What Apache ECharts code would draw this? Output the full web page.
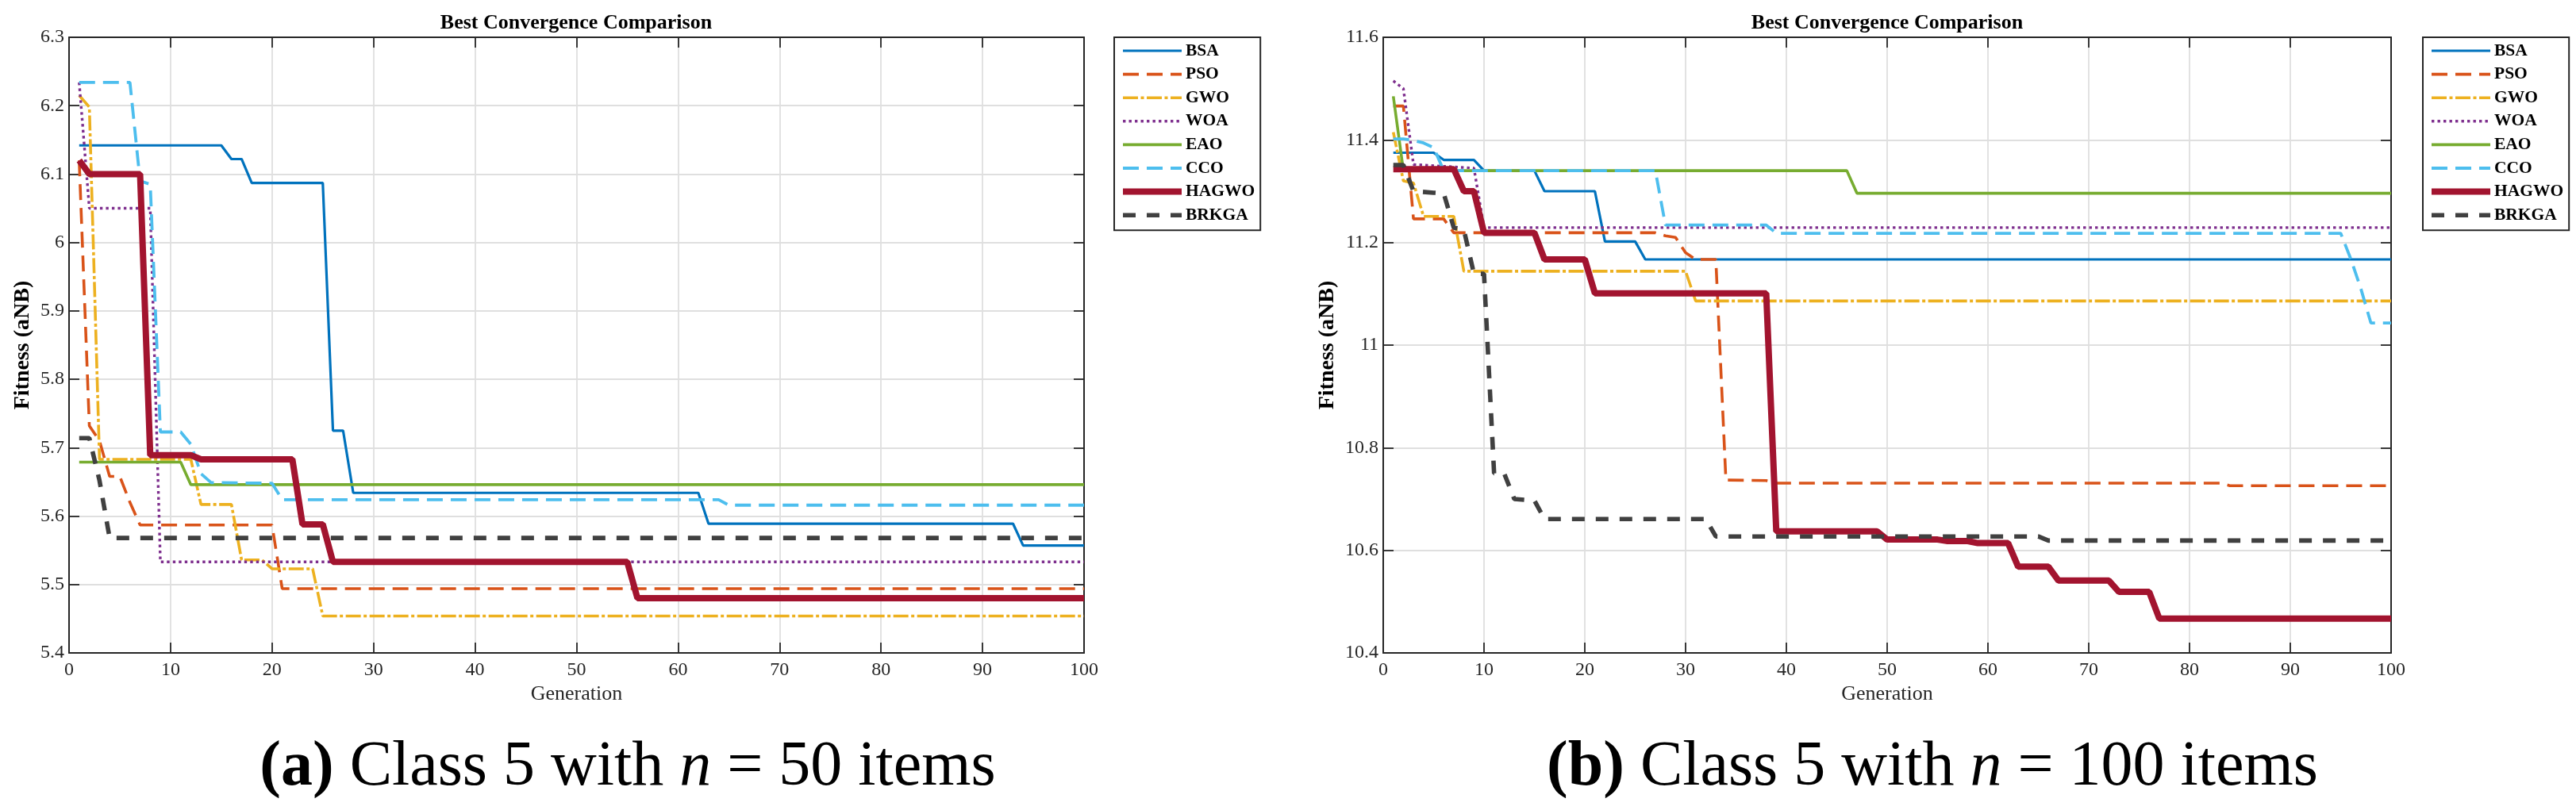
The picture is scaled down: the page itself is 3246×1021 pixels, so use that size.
<!DOCTYPE html>
<html>
<head>
<meta charset="utf-8">
<title>Best Convergence Comparison</title>
<script src="https://cdn.jsdelivr.net/npm/echarts@6/dist/echarts.min.js"></script>
<style>
  html, body { margin: 0; padding: 0; background: #ffffff; }
  #chart { width: 3246px; height: 1021px; }
</style>
</head>
<body>
<div id="chart"></div>
<script>
// ---- data ----
const algorithms = ['BSA', 'PSO', 'GWO', 'WOA', 'EAO', 'CCO', 'HAGWO', 'BRKGA'];
const genTicks = [0, 10, 20, 30, 40, 50, 60, 70, 80, 90, 100];
const fitTicksA = [5.4, 5.5, 5.6, 5.7, 5.8, 5.9, 6.0, 6.1, 6.2, 6.3];
const fitTicksB = [10.4, 10.6, 10.8, 11.0, 11.2, 11.4, 11.6];

// (a) class 5, n = 50 : [generation, best fitness] at each change point
const bsaA = [[1,6.142],[15,6.142],[16,6.122],[17,6.122],[18,6.087],[25,6.087],[26,5.725],[27,5.725],[28,5.634],[62,5.634],[63,5.589],[93,5.589],[94,5.557],[100,5.557]];
const psoA = [[1,6.12],[2,5.732],[3,5.71],[4,5.658],[5,5.658],[6,5.62],[7,5.587],[20,5.587],[21,5.494],[100,5.494]];
const gwoA = [[1,6.215],[2,6.198],[3,5.683],[12,5.683],[13,5.617],[16,5.617],[17,5.536],[19,5.536],[20,5.523],[24,5.523],[25,5.454],[100,5.454]];
const woaA = [[1,6.234],[2,6.05],[8,6.05],[9,5.533],[100,5.533]];
const eaoA = [[1,5.679],[11,5.679],[12,5.646],[100,5.646]];
const ccoA = [[1,6.234],[6,6.234],[7,6.09],[8,6.085],[9,5.723],[11,5.723],[12,5.705],[13,5.662],[14,5.649],[20,5.648],[21,5.624],[64,5.624],[65,5.616],[100,5.616]];
const hagwoA = [[1,6.12],[2,6.1],[7,6.1],[8,5.689],[12,5.689],[13,5.683],[22,5.683],[23,5.588],[25,5.588],[26,5.533],[55,5.533],[56,5.48],[100,5.48]];
const brkgaA = [[1,5.714],[2,5.714],[3,5.652],[4,5.568],[100,5.568]];

// (b) class 5, n = 100
const bsaB = [[1,11.375],[5,11.375],[6,11.361],[9,11.361],[10,11.34],[15,11.34],[16,11.30],[21,11.30],[22,11.202],[25,11.202],[26,11.167],[100,11.167]];
const psoB = [[1,11.466],[2,11.466],[3,11.246],[6,11.246],[7,11.219],[27,11.219],[28,11.213],[29,11.21],[30,11.18],[31,11.167],[33,11.167],[34,10.737],[38,10.736],[39,10.731],[83,10.731],[84,10.726],[100,10.726]];
const gwoB = [[1,11.415],[2,11.32],[3,11.316],[4,11.251],[7,11.251],[8,11.144],[30,11.144],[31,11.086],[100,11.086]];
const woaB = [[1,11.515],[2,11.5],[3,11.352],[9,11.345],[10,11.229],[100,11.229]];
const eaoB = [[1,11.485],[2,11.34],[46,11.34],[47,11.296],[100,11.296]];
const ccoB = [[1,11.402],[2,11.402],[3,11.399],[4,11.394],[5,11.385],[6,11.34],[27,11.34],[28,11.234],[38,11.234],[39,11.218],[95,11.218],[96,11.168],[97,11.11],[98,11.043],[100,11.043]];
const hagwoB = [[1,11.343],[7,11.343],[8,11.30],[9,11.30],[10,11.219],[15,11.219],[16,11.167],[20,11.167],[21,11.101],[38,11.101],[39,10.637],[49,10.637],[50,10.621],[55,10.621],[56,10.618],[58,10.618],[59,10.614],[62,10.614],[63,10.568],[66,10.568],[67,10.541],[72,10.541],[73,10.519],[76,10.519],[77,10.467],[100,10.467]];
const brkgaB = [[1,11.351],[2,11.351],[3,11.30],[5,11.297],[6,11.296],[7,11.229],[8,11.225],[9,11.139],[10,11.139],[11,10.75],[12,10.75],[13,10.70],[15,10.697],[16,10.661],[32,10.661],[33,10.627],[65,10.627],[66,10.619],[100,10.619]];

const dataA = [bsaA, psoA, gwoA, woaA, eaoA, ccoA, hagwoA, brkgaA];
const dataB = [bsaB, psoB, gwoB, woaB, eaoB, ccoB, hagwoB, brkgaB];

// ---- styling (MATLAB default palette) ----
const FONT = 'Liberation Serif';
const AXIS_COLOR = '#262626';
const GRID_COLOR = '#dfdfdf';
const styles = {
    BSA:   { color: '#0072BD', width: 3.2, type: 'solid' },
    PSO:   { color: '#D95319', width: 3.6, type: [20, 10] },
    GWO:   { color: '#EDB120', width: 3.6, type: [19, 3.5, 4, 3.5] },
    WOA:   { color: '#7E2F8E', width: 3.4, type: [3.4, 4.1] },
    EAO:   { color: '#77AC30', width: 3.6, type: 'solid' },
    CCO:   { color: '#4DBEEE', width: 3.8, type: [20, 10] },
    HAGWO: { color: '#A2142F', width: 8, type: 'solid' },
    BRKGA: { color: '#404040', width: 5.6, type: [16, 14] }
};

const grids = [
    { left: 87, top: 47, width: 1279, height: 776 },
    { left: 1743, top: 47, width: 1270, height: 776 }
];

function xAxes(gridIndex) {
    const base = {
        type: 'value', gridIndex: gridIndex,
        min: genTicks[0], max: genTicks[genTicks.length - 1],
        interval: genTicks[1] - genTicks[0],
        axisLine: { show: true, onZero: false, lineStyle: { color: AXIS_COLOR, width: 2 } },
        axisTick: { show: true, inside: true, length: 13, lineStyle: { color: AXIS_COLOR, width: 1.8 } }
    };
    return [
        Object.assign({}, base, {
            position: 'bottom',
            axisLabel: { color: AXIS_COLOR, fontFamily: FONT, fontSize: 24, margin: 10 },
            splitLine: { show: true, lineStyle: { color: GRID_COLOR, width: 1.8 } },
            name: 'Generation', nameLocation: 'middle', nameGap: 36,
            nameTextStyle: { color: AXIS_COLOR, fontFamily: FONT, fontSize: 26 }
        }),
        Object.assign({}, base, {
            position: 'top', axisLabel: { show: false }, splitLine: { show: false }
        })
    ];
}

function yAxes(gridIndex, ticks, nameGap) {
    const base = {
        type: 'value', gridIndex: gridIndex,
        min: ticks[0], max: ticks[ticks.length - 1],
        interval: +(ticks[1] - ticks[0]).toFixed(3),
        axisLine: { show: true, onZero: false, lineStyle: { color: AXIS_COLOR, width: 2 } },
        axisTick: { show: true, inside: true, length: 13, lineStyle: { color: AXIS_COLOR, width: 1.8 } }
    };
    return [
        Object.assign({}, base, {
            position: 'left',
            axisLabel: { color: AXIS_COLOR, fontFamily: FONT, fontSize: 24, margin: 6,
                         formatter: v => String(+v.toFixed(2)) },
            splitLine: { show: true, lineStyle: { color: GRID_COLOR, width: 1.8 } },
            name: 'Fitness (aNB)', nameLocation: 'middle', nameGap: nameGap,
            nameTextStyle: { color: '#000', fontFamily: FONT, fontSize: 28, fontWeight: 'bold' }
        }),
        Object.assign({}, base, {
            position: 'right', axisLabel: { show: false }, splitLine: { show: false }
        })
    ];
}

function buildSeries(datasets, axisIndex) {
    return algorithms.map((name, i) => ({
        name: name,
        type: 'line',
        xAxisIndex: axisIndex,
        yAxisIndex: axisIndex,
        data: datasets[i],
        symbol: 'none',
        showSymbol: false,
        lineStyle: styles[name],
        itemStyle: { color: styles[name].color },
        emphasis: { disabled: true },
        z: 2 + i
    }));
}

function buildLegend(left) {
    return {
        orient: 'vertical', left: left, top: 47,
        itemWidth: 74, itemHeight: 20, itemGap: 7.6,
        padding: [6, 7, 8, 7],
        borderColor: AXIS_COLOR, borderWidth: 2, backgroundColor: '#fff',
        selectedMode: false,
        itemStyle: { opacity: 0 },
        textStyle: { color: '#000', fontFamily: FONT, fontSize: 21.5, fontWeight: 'bold', lineHeight: 20 },
        data: algorithms.map(name => ({
            name: name,
            itemStyle: { opacity: 0 },
            lineStyle: { color: styles[name].color, width: styles[name].width, type: styles[name].type }
        }))
    };
}

function caption(x, label, count) {
    return {
        type: 'text', x: x, y: 968, silent: true,
        style: {
            text: '{b|(' + label + ')} Class 5 with {i|n} = ' + count + ' items',
            fontFamily: FONT, fontSize: 80, fill: '#000',
            align: 'center', verticalAlign: 'middle',
            rich: {
                b: { fontFamily: FONT, fontSize: 80, fontWeight: 'bold', fill: '#000' },
                i: { fontFamily: FONT, fontSize: 80, fontStyle: 'italic', fill: '#000' }
            }
        }
    };
}

function plotTitle(x) {
    return {
        type: 'text', x: x, y: 29, silent: true,
        style: {
            text: 'Best Convergence Comparison',
            fontFamily: FONT, fontSize: 26, fontWeight: 'bold', fill: '#000',
            align: 'center', verticalAlign: 'middle'
        }
    };
}

const chart = echarts.init(document.getElementById('chart'), null, { renderer: 'canvas' });

chart.setOption({
    backgroundColor: '#ffffff',
    animation: false,
    grid: grids,
    xAxis: xAxes(0).concat(xAxes(1)),
    yAxis: yAxes(0, fitTicksA, 44).concat(yAxes(1, fitTicksB, 56)),
    legend: [buildLegend(1404), buildLegend(3053)],
    series: buildSeries(dataA, 0).concat(buildSeries(dataB, 2)),
    graphic: [
        plotTitle(726),
        plotTitle(2378),
        caption(791, 'a', 50),
        caption(2435, 'b', 100)
    ]
});
</script>
</body>
</html>
